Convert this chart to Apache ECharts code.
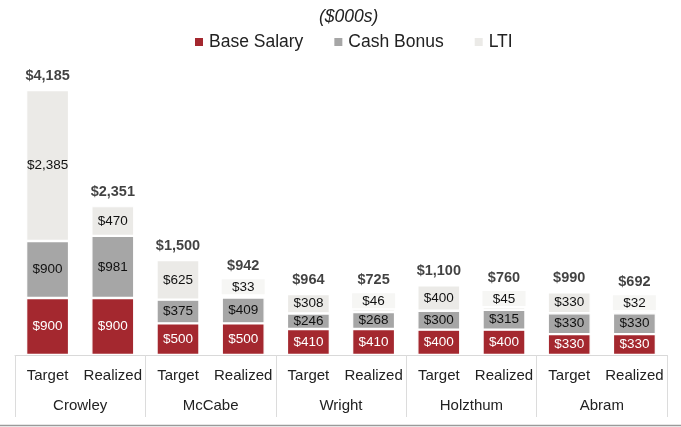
<!DOCTYPE html>
<html>
<head>
<meta charset="utf-8">
<script src="https://cdn.jsdelivr.net/npm/echarts@6/dist/echarts.min.js"></script>
<style>
html,body{margin:0;padding:0;background:#fff;}
#c{width:681px;height:427px;}
</style>
</head>
<body>
<div id="c"></div>
<script>
const roles = ['Target','Realized','Target','Realized','Target','Realized','Target','Realized','Target','Realized'];
const executives = ['Crowley','McCabe','Wright','Holzthum','Abram'];
const baseSalary = [900,900,500,500,410,410,400,400,330,330];
const cashBonus = [900,981,375,409,246,268,300,315,330,330];
const lti = [2385,470,625,33,308,46,400,45,330,32];
const totals = [4185,2351,1500,942,964,725,1100,760,990,692];

const FONT = "'Liberation Sans', Arial, sans-serif";
const fmt = v => '$' + Number(v).toLocaleString('en-US');
const SMALL = 100;

const chart = echarts.init(document.getElementById('c'), null, {renderer:'canvas'});

const ltiData = lti.map(v => v < SMALL ? {
  value: v,
  label: {
    position: 'top', distance: 1,
    backgroundColor: '#f6f6f4',
    width: 43, height: 14, lineHeight: 14, align: 'center',
    padding: [1,0,0,0]
  }
} : v);

const totalData = totals.map((t,i) => lti[i] < SMALL ? {
  value: t, label: { distance: 21 }
} : t);

const segStyle = {borderColor:'#fff', borderWidth:1.2};

chart.setOption({
  animation:false,
  textStyle:{fontFamily:FONT},
  title:{
    text:'($000s)', left:314, top:3,
    textStyle:{fontFamily:FONT, fontSize:17.5, fontStyle:'italic', fontWeight:'normal', color:'#222'}
  },
  legend:{
    data:['Base Salary','Cash Bonus','LTI'],
    left:188, top:28, itemWidth:10, itemHeight:10, itemGap:29, icon:'rect',
    textStyle:{fontFamily:FONT, fontSize:17.5, color:'#222'}
  },
  grid:{left:15, right:14, top:90, bottom:72},
  xAxis:[{
    type:'category', data:roles, position:'bottom',
    axisLine:{show:true, lineStyle:{color:'#d9d9d9', width:1}},
    axisTick:{show:false},
    axisLabel:{fontFamily:FONT, fontSize:15, color:'#222', margin:13, interval:0}
  },{
    type:'category', data:executives, position:'bottom',
    axisLine:{show:false},
    axisTick:{show:true, length:62, lineStyle:{color:'#dcdcdc', width:1}},
    axisLabel:{fontFamily:FONT, fontSize:15, color:'#222', margin:43, interval:0}
  }],
  yAxis:{type:'value', min:0, max:4185, show:false, splitLine:{show:false}},
  series:[{
    name:'Base Salary', type:'bar', stack:'a', data:baseSalary, barWidth:43,
    itemStyle:Object.assign({color:'#a4282f'}, segStyle),
    label:{show:true, position:'inside', color:'#fff', fontSize:13.5, fontFamily:FONT, formatter:p=>fmt(p.value)}
  },{
    name:'Cash Bonus', type:'bar', stack:'a', data:cashBonus, barWidth:43,
    itemStyle:Object.assign({color:'#a6a6a6'}, segStyle),
    label:{show:true, position:'inside', color:'#111', fontSize:13.5, fontFamily:FONT, formatter:p=>fmt(p.value)}
  },{
    name:'LTI', type:'bar', stack:'a', data:ltiData, barWidth:43,
    itemStyle:Object.assign({color:'#ebeae7'}, segStyle),
    label:{show:true, position:'inside', color:'#111', fontSize:13.5, fontFamily:FONT, formatter:p=>fmt(p.value)}
  },{
    name:'Total', type:'scatter', data:totalData, symbolSize:1,
    itemStyle:{color:'rgba(0,0,0,0)'},
    label:{show:true, position:'top', distance:6, color:'#111', fontSize:14.5, fontWeight:'bold', fontFamily:FONT, formatter:p=>fmt(p.value)},
    z:5, silent:true
  }],
  graphic:[{
    type:'line', shape:{x1:0, y1:425.5, x2:681, y2:425.5},
    style:{stroke:'#9a9a9a', lineWidth:1.5}
  }]
});
</script>
</body>
</html>
